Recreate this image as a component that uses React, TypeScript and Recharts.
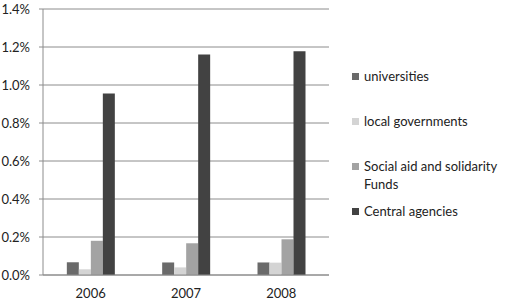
import React from 'react';
import { BarChart, Bar, XAxis, YAxis, CartesianGrid } from 'recharts';

const years = ['2006', '2007', '2008'];
const universities = [0.00067, 0.00066, 0.00066];
const localGovernments = [0.0003, 0.0004, 0.00065];
const socialAid = [0.0018, 0.00167, 0.00188];
const centralAgencies = [0.00955, 0.0116, 0.01177];
const yTicks = [0, 0.002, 0.004, 0.006, 0.008, 0.01, 0.012, 0.014];

const seriesNames = ['universities', 'local governments', 'Social aid and solidarity Funds', 'Central agencies'];
const seriesKeys = ['u', 'l', 's', 'c'];
const colors = ['#6a6a6a', '#d4d4d4', '#a3a3a3', '#424242'];

const data = years.map((y, i) => ({
  year: y,
  idx: i,
  u: universities[i],
  l: localGovernments[i],
  s: socialAid[i],
  c: centralAgencies[i],
}));

const font = 'Lato, "Open Sans", sans-serif';

const itemMargins = [0, 27, 27, 9];

const LegendBox = () => (
  <div
    style={{
      position: 'absolute',
      left: 352,
      top: 67,
      width: 155,
      fontFamily: font,
      fontSize: 13,
      color: '#222',
      lineHeight: '18px',
    }}
  >
    {seriesNames.map((n, i) => (
      <div key={n} style={{ display: 'flex', alignItems: 'flex-start', marginTop: itemMargins[i] }}>
        <div style={{ width: 7, height: 7, background: colors[i], marginTop: 6, marginRight: 5, flex: 'none' }} />
        <div style={{ width: 145 }}>{n}</div>
      </div>
    ))}
  </div>
);

export default function App() {
  return (
    <div style={{ position: 'absolute', left: 0, top: 0, width: 507, height: 303, background: '#fff' }}>
      <BarChart
        width={507}
        height={303}
        data={data}
        margin={{ top: 9, right: 178, left: 0, bottom: 0 }}
        barCategoryGap="25%"
        barGap={0}
      >
        <CartesianGrid vertical={false} stroke="#8c8c8c" strokeWidth={1} />
        <XAxis
          xAxisId="b"
          type="number"
          dataKey="idx"
          domain={[0, 3]}
          ticks={[0, 1, 2, 3]}
          height={0}
          axisLine={false}
          tickLine={{ stroke: '#8c8c8c' }}
          tickSize={5}
          tick={{ fill: 'none', fontSize: 1 }}
          allowDataOverflow
        />
        <XAxis
          xAxisId="a"
          dataKey="year"
          height={28}
          axisLine={{ stroke: '#8c8c8c' }}
          tickLine={false}
          tick={{ fill: '#222', fontSize: 13, fontFamily: font }}
          tickMargin={8}
        />
        <YAxis
          domain={[0, 0.014]}
          ticks={yTicks}
          width={43}
          axisLine={{ stroke: '#8c8c8c' }}
          tickLine={{ stroke: '#8c8c8c' }}
          tickSize={4}
          tickMargin={9}
          tickFormatter={(v: number) => (v * 100).toFixed(1) + '%'}
          tick={{ fill: '#222', fontSize: 13, fontFamily: font }}
          interval={0}
        />
        {seriesKeys.map((k, i) => (
          <Bar key={k} xAxisId="a" dataKey={k} name={seriesNames[i]} fill={colors[i]} isAnimationActive={false} />
        ))}
      </BarChart>
      <LegendBox />
    </div>
  );
}
